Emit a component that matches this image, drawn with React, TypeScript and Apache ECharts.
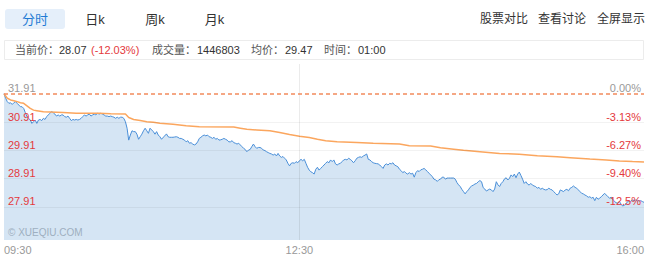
import React, { useEffect, useRef } from "react";
import * as echarts from "echarts";

// Previous close and intraday quote summary
const prevClose = 31.91;
const lastPrice = "28.07";
const changePct = "(-12.03%)";
const volume = "1446803";
const avgPriceText = "29.47";
const timeText = "01:00";

// Tabs and header actions
const tabs = ["分时", "日k", "周k", "月k"];
const actions = ["股票对比", "查看讨论", "全屏显示"];

// Y axis grid levels and their percentage labels
const gridValues = [31.91, 30.91, 29.91, 28.91, 27.91];
const pctLabels = ["0.00%", "-3.13%", "-6.27%", "-9.40%", "-12.5%"];

// X axis: minutes since 09:30
const timeTicks = [0, 180, 390];
const timeLabels = ["09:30", "12:30", "16:00"];

// One price per minute, 09:30 to 16:00
const prices = [
  31.91, 31.75, 31.63, 31.57, 31.59, 31.53, 31.59, 31.63, 31.57, 31.51,
  31.45, 31.45, 31.39, 31.24, 31.10, 31.04, 30.98, 30.86, 30.92, 30.98,
  30.86, 30.98, 31.00, 30.96, 31.04, 31.00, 31.10, 31.16, 31.22, 31.28,
  31.24, 31.19, 31.12, 31.16, 31.12, 31.16, 31.16, 31.10, 31.08, 31.12,
  31.04, 30.96, 31.00, 30.98, 31.00, 30.98, 31.00, 31.04, 31.10, 31.16, 31.12,
  31.16, 31.19, 31.12, 31.16, 31.19, 31.16, 31.22, 31.19, 31.22, 31.19,
  31.16, 31.12, 31.12, 31.10, 31.12, 31.10, 31.08, 31.04, 31.08, 31.04,
  31.08, 31.08, 31.04, 30.92, 30.69, 30.27, 30.45, 30.60, 30.57, 30.57,
  30.48, 30.30, 30.39, 30.48, 30.60, 30.69, 30.60, 30.51, 30.69, 30.63,
  30.57, 30.48, 30.57, 30.45, 30.39,
  30.30, 30.37, 30.42, 30.49, 30.39, 30.37, 30.37, 30.37, 30.38, 30.39,
  30.37, 30.33, 30.33, 30.30, 30.27, 30.21, 30.25, 30.16, 30.18, 30.13,
  30.10, 30.13, 30.21, 30.33, 30.37, 30.42, 30.45, 30.42, 30.45, 30.39,
  30.37, 30.33, 30.37, 30.30, 30.33, 30.27, 30.28, 30.30, 30.33, 30.30, 30.27,
  30.21, 30.21, 30.25, 30.18, 30.16, 30.13, 30.16, 30.10, 30.04, 29.98,
  29.94, 29.86, 29.92, 29.94, 30.04, 30.13, 30.04, 29.98, 30.01, 30.01,
  29.98, 29.92, 29.90, 29.86, 29.83, 29.80, 29.78, 29.74, 29.78, 29.71,
  29.80, 29.71, 29.66, 29.69, 29.63, 29.57, 29.45, 29.36, 29.45, 29.47,
  29.45, 29.51, 29.47, 29.54, 29.59, 29.54, 29.59, 29.45, 29.31, 29.21,
  29.15, 29.12, 29.07, 29.24, 29.31, 29.21,
  29.27, 29.33, 29.39, 29.45, 29.51, 29.47, 29.57, 29.51, 29.57, 29.43,
  29.39, 29.43, 29.45, 29.51, 29.57, 29.59, 29.57, 29.63, 29.59, 29.54,
  29.47, 29.54, 29.63, 29.66, 29.68, 29.66, 29.71, 29.74, 29.78, 29.59,
  29.57, 29.51, 29.47, 29.45, 29.44, 29.43, 29.39, 29.33, 29.27, 29.39, 29.43,
  29.39, 29.45, 29.43, 29.47, 29.39, 29.36, 29.33, 29.24, 29.19, 29.12,
  29.16, 29.10, 29.07, 29.12, 29.07, 29.10, 28.96, 29.12, 29.19, 29.16,
  29.22, 29.24, 29.27, 29.22, 29.16, 29.10, 29.04, 28.98, 28.89, 28.87,
  28.81, 28.87, 28.89, 28.96, 28.96, 28.89, 28.93, 28.93, 28.93, 28.93, 28.93,
  28.89, 28.77, 28.69, 28.63, 28.53, 28.45, 28.37, 28.45, 28.51, 28.60,
  28.65, 28.68, 28.72, 28.74, 28.80, 28.84,
  28.80, 28.59, 28.54, 28.47, 28.51, 28.54, 28.51, 28.45, 28.54, 28.80,
  28.69, 28.63, 28.74, 28.80, 28.90, 28.94, 28.86, 28.92, 29.04, 28.98,
  29.07, 28.94, 29.07, 29.14, 29.02, 28.89, 28.74, 28.80, 28.72, 28.68,
  28.74, 28.68, 28.65, 28.63, 28.57, 28.60, 28.53, 28.57, 28.53, 28.51,
  28.52, 28.57, 28.53, 28.51, 28.45, 28.39, 28.33, 28.37, 28.51, 28.48, 28.45,
  28.51, 28.53, 28.48, 28.57, 28.60, 28.65, 28.60, 28.57, 28.51, 28.45,
  28.39, 28.37, 28.33, 28.30, 28.25, 28.27, 28.22, 28.25, 28.13, 28.25,
  28.18, 28.22, 28.27, 28.33, 28.39, 28.33, 28.27, 28.22, 28.25, 28.18,
  28.10, 28.06, 28.04, 28.10, 28.01, 27.94, 27.97, 28.01, 28.10, 28.13,
  28.10, 28.16, 28.13, 28.16, 28.13, 28.12, 28.13, 28.10, 28.07,
];

// Running average price (minute, value)
const avgMinutes = [
  0, 2, 4, 6, 8, 10, 12, 14, 16, 18, 20, 24, 36, 44, 58, 65, 74, 76, 79, 83,
  87, 91, 95, 103, 111, 119, 140, 144, 148, 154, 162, 168, 174, 180, 186, 191,
  196, 203, 215, 225, 241, 247, 260, 266, 274, 280, 290, 302, 314, 325, 337,
  345, 357, 367, 375, 383, 390,
];
const avgPrices = [
  31.91, 31.75, 31.69, 31.66, 31.63, 31.59, 31.57, 31.48, 31.39, 31.33, 31.31,
  31.27, 31.25, 31.22, 31.22, 31.20, 31.19, 31.07, 31.00, 30.96, 30.92, 30.90,
  30.87, 30.83, 30.78, 30.74, 30.73, 30.69, 30.65, 30.63, 30.60, 30.54, 30.47,
  30.41, 30.36, 30.30, 30.25, 30.21, 30.19, 30.16, 30.13, 30.07, 30.06, 30.00,
  29.95, 29.91, 29.86, 29.80, 29.77, 29.72, 29.68, 29.65, 29.60, 29.57, 29.53,
  29.51, 29.50,
];

const FONT = "'Liberation Sans', Arial, 'Noto Sans CJK SC', sans-serif";
const RED = "#e4393c";
const GRAY = "#999999";

function isPrevClose(v: number) {
  return Math.abs(v - prevClose) < 1e-6;
}

function gridIndex(v: number) {
  return gridValues.findIndex((g) => Math.abs(g - v) < 1e-6);
}

function buildGraphic() {
  const tabX = [35, 95, 155, 214.5];
  const actionX = [504, 562, 621];
  const els: any[] = [
    {
      type: "rect",
      shape: { x: 5, y: 9, width: 60, height: 20, r: 3 },
      style: { fill: "#e5effa" },
      silent: true,
    },
  ];
  tabs.forEach((t, i) => {
    els.push({
      type: "text",
      x: tabX[i],
      y: 19,
      style: {
        text: t,
        fill: i === 0 ? "#1f7bd4" : "#333333",
        font: `13px ${FONT}`,
        align: "center",
        verticalAlign: "middle",
      },
    });
  });
  actions.forEach((t, i) => {
    els.push({
      type: "text",
      x: actionX[i],
      y: 19,
      style: {
        text: t,
        fill: "#333333",
        font: `12px ${FONT}`,
        align: "center",
        verticalAlign: "middle",
      },
    });
  });
  els.push({
    type: "rect",
    shape: { x: 4.5, y: 40.5, width: 639, height: 19 },
    style: { fill: "#ffffff", stroke: "#ececec", lineWidth: 1 },
    silent: true,
  });
  const info: [string, number, string][] = [
    ["当前价：", 15, "#555555"],
    [lastPrice, 59, "#333333"],
    [changePct, 91, RED],
    ["成交量：", 152, "#555555"],
    [volume, 197, "#333333"],
    ["均价：", 251, "#555555"],
    [avgPriceText, 285, "#333333"],
    ["时间：", 324, "#555555"],
    [timeText, 358, "#333333"],
  ];
  info.forEach(([t, x, c]) => {
    els.push({
      type: "text",
      x,
      y: 50,
      style: {
        text: t,
        fill: c,
        font: `11px ${FONT}`,
        align: "left",
        verticalAlign: "middle",
      },
    });
  });
  els.push({
    type: "text",
    x: 8,
    y: 232,
    z: 10,
    style: {
      text: "© XUEQIU.COM",
      fill: "#9eafc0",
      font: `10px ${FONT}`,
      align: "left",
      verticalAlign: "middle",
    },
  });
  return els;
}

export default function App() {
  const ref = useRef<HTMLDivElement>(null);

  useEffect(() => {
    if (!ref.current) return;
    const chart = echarts.init(ref.current, undefined, { renderer: "svg" });
    const yMin = 26.74;
    const yMax = 32.96;

    const yAxisBase = {
      type: "value",
      min: yMin,
      max: yMax,
      z: 10,
      axisLine: { show: false },
      axisTick: { show: false },
      splitLine: { show: false },
    };

    chart.setOption({
      animation: false,
      backgroundColor: "#ffffff",
      grid: { left: 4, right: 4, top: 64, bottom: 17 },
      xAxis: {
        type: "value",
        min: 0,
        max: 390,
        axisLine: { show: false },
        axisTick: { show: false },
        splitLine: { show: false },
        axisLabel: {
          customValues: timeTicks,
          formatter: (v: number) => {
            const i = timeTicks.indexOf(v);
            return i >= 0 ? timeLabels[i] : "";
          },
          color: GRAY,
          fontSize: 11,
          fontFamily: FONT,
          margin: 4,
          alignMinLabel: "left",
          alignMaxLabel: "right",
        },
      },
      yAxis: [
        {
          ...yAxisBase,
          position: "left",
          axisLabel: {
            inside: true,
            customValues: gridValues,
            formatter: (v: number) => v.toFixed(2),
            color: (v: any) => (isPrevClose(Number(v)) ? GRAY : RED),
            verticalAlign: "bottom",
            margin: 4,
            fontSize: 11,
            fontFamily: FONT,
          },
        },
        {
          ...yAxisBase,
          position: "right",
          axisLabel: {
            inside: true,
            customValues: gridValues,
            formatter: (v: number) => {
              const i = gridIndex(v);
              return i >= 0 ? pctLabels[i] : "";
            },
            color: (v: any) => (isPrevClose(Number(v)) ? GRAY : RED),
            verticalAlign: "bottom",
            margin: 3,
            fontSize: 11,
            fontFamily: FONT,
          },
        },
      ],
      series: [
        {
          type: "line",
          data: prices.map((p, i) => [i, p]),
          symbol: "none",
          lineStyle: { color: "#4a8fd8", width: 1 },
          areaStyle: { color: "#d5e5f4", opacity: 1 },
          z: 2,
          markLine: {
            silent: true,
            symbol: "none",
            label: { show: false },
            data: [
              ...gridValues.slice(1).map((g) => ({
                yAxis: g,
                lineStyle: { color: "rgba(0,0,0,0.05)", type: "solid", width: 1 },
              })),
              {
                xAxis: 180,
                lineStyle: { color: "rgba(0,0,0,0.08)", type: "solid", width: 1 },
              },
            ],
          },
        },
        {
          type: "line",
          data: avgMinutes.map((m, i) => [m, avgPrices[i]]),
          symbol: "none",
          lineStyle: { color: "#fba65e", width: 1.5 },
          z: 3,
          markLine: {
            silent: true,
            symbol: "none",
            label: { show: false },
            data: [
              {
                yAxis: prevClose,
                lineStyle: { color: "#f28a5c", type: [4, 3], width: 1.5 },
              },
            ],
          },
        },
      ],
      graphic: buildGraphic(),
    });

    return () => chart.dispose();
  }, []);

  return (
    <div
      ref={ref}
      style={{ position: "fixed", left: 0, top: 0, width: 648, height: 257, background: "#fff" }}
    />
  );
}
